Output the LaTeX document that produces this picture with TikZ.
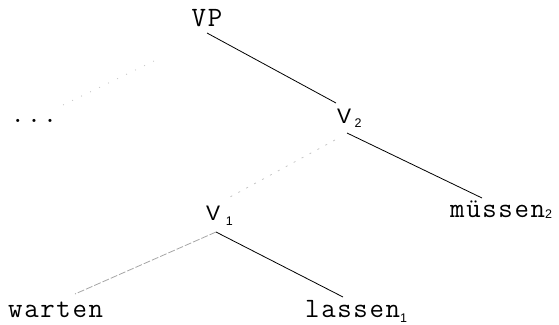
\documentclass[tikz,border=0pt]{standalone}
\usepackage{fontspec}
\newfontfamily\mono[LetterSpace=6]{Latin Modern Mono}
\newfontfamily\sansf{Liberation Sans}
\newcommand{\mysub}[2]{\raisebox{-#1pt}{\sansf\fontsize{12.5}{12.5}\selectfont #2}}
\begin{document}
\begin{tikzpicture}[x=1pt,y=-1pt,
  lbl/.style={inner sep=0pt,font=\mono\fontsize{28}{28}\selectfont},
  cat/.style={inner sep=0pt,font=\sansf\fontsize{21}{21}\selectfont},
  solidedge/.style={line width=0.8pt,black},
  faintA/.style={line width=0.8pt,gray!45,dash pattern=on 1pt off 9pt},
  faintB/.style={line width=0.8pt,gray!45,dash pattern=on 2pt off 7pt},
  faintC/.style={line width=0.8pt,gray!70,dash pattern=on 7pt off 2pt}]
\useasboundingbox (0,0) rectangle (559,324);
% nodes
\node[lbl,anchor=base] (VP) at (207,26) {VP};
\node[lbl,anchor=base] (dots) at (34,122) {...};
\node[cat,anchor=base west] (V2) at (337,123) {V\,\mysub{4}{2}};
\node[cat,anchor=base west] (V1) at (206,220) {V\,\mysub{5}{\,1}};
\node[lbl,anchor=base west] (mue) at (450,217) {müssen\mysub{1}{2}};
\node[lbl,anchor=base west] (las) at (305,317) {lassen\mysub{5}{1}};
\node[lbl,anchor=base west] (war) at (8,317) {warten};
% connector end points
\coordinate (VPs) at ([shift={(0,7)}]VP.base);
\coordinate (VPsw) at ([shift={(-53,35)}]VP.base);
\coordinate (dotsne) at ([shift={(29,-17)}]dots.base);
\coordinate (V2n) at ([shift={(-1,-20)}]V2.base west);
\coordinate (V2s) at ([shift={(10,10)}]V2.base west);
\coordinate (V2sw) at ([shift={(-2,17)}]V2.base west);
\coordinate (V1n) at ([shift={(24,-23)}]V1.base west);
\coordinate (V1s) at ([shift={(10,12)}]V1.base west);
\coordinate (muen) at ([shift={(32,-19)}]mue.base west);
\coordinate (lasn) at ([shift={(38,-20)}]las.base west);
\coordinate (warn) at ([shift={(67,-23)}]war.base west);
% connectors
\draw[solidedge] (VPs) -- (V2n);
\draw[faintA] (VPsw) -- (dotsne);
\draw[solidedge] (V2s) -- (muen);
\draw[faintB] (V2sw) -- (V1n);
\draw[solidedge] (V1s) -- (lasn);
\draw[faintC] (V1s) -- (warn);
\end{tikzpicture}
\end{document}
